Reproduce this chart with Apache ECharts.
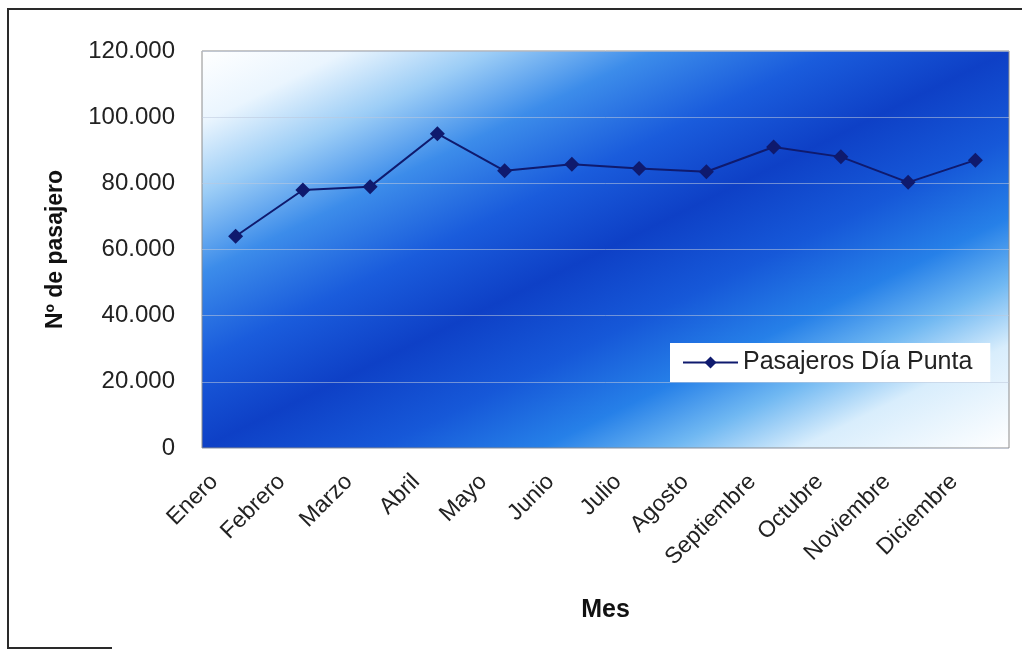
<!DOCTYPE html>
<html>
<head>
<meta charset="utf-8">
<script src="https://cdn.jsdelivr.net/npm/echarts@6/dist/echarts.min.js"></script>
<style>
  html, body { margin: 0; padding: 0; background: #ffffff; }
  #chart { width: 1022px; height: 652px; }
</style>
</head>
<body>
<div id="chart"></div>
<script>
// Monthly peak-day passengers
const months = ['Enero', 'Febrero', 'Marzo', 'Abril', 'Mayo', 'Junio', 'Julio',
                'Agosto', 'Septiembre', 'Octubre', 'Noviembre', 'Diciembre'];
const pasajerosDiaPunta = [64000, 78000, 79000, 95000, 83800, 85800,
                           84500, 83500, 91000, 88000, 80300, 87000];
const yTickLabels = ['0', '20.000', '40.000', '60.000', '80.000', '100.000', '120.000'];
const seriesName = 'Pasajeros Día Punta';

const FONT = "'Liberation Sans', Arial, sans-serif";

// plot box in pixels
const G = { left: 202, top: 51, width: 807, height: 397 };

// diagonal gradient: white corners top-left / bottom-right, deep blue band along
// the bottom-left -> top-right diagonal
function plotGradient() {
  const dx = G.height, dy = G.width;            // perpendicular to the BL-TR diagonal
  const len = Math.hypot(dx, dy);
  const ux = dx / len, uy = dy / len;
  const proj = G.width * ux + G.height * uy;     // projection of the far corner
  return {
    type: 'linear', global: true,
    x: G.left, y: G.top,
    x2: G.left + ux * proj, y2: G.top + uy * proj,
    colorStops: [
      { offset: 0.00, color: '#ffffff' },
      { offset: 0.09, color: '#eaf5fe' },
      { offset: 0.18, color: '#9ccdf6' },
      { offset: 0.28, color: '#3c8cea' },
      { offset: 0.39, color: '#1a5cdc' },
      { offset: 0.50, color: '#0e40c6' },
      { offset: 0.61, color: '#1658d8' },
      { offset: 0.71, color: '#2680e8' },
      { offset: 0.79, color: '#70b8f2' },
      { offset: 0.87, color: '#d8edfc' },
      { offset: 1.00, color: '#ffffff' }
    ]
  };
}

const chart = echarts.init(document.getElementById('chart'), null, { renderer: 'canvas' });

chart.setOption({
  backgroundColor: '#ffffff',
  animation: false,
  textStyle: { fontFamily: FONT },
  grid: {
    left: G.left, top: G.top, width: G.width, height: G.height,
    show: true,
    backgroundColor: plotGradient(),
    borderColor: '#8c8c8c',
    borderWidth: 1
  },
  legend: {
    left: 670, top: 343,
    backgroundColor: '#ffffff',
    padding: [7, 18, 7, 12],
    itemWidth: 55, itemHeight: 15, itemGap: 8,
    textStyle: { fontFamily: FONT, fontSize: 25, color: '#222222' },
    data: [seriesName]
  },
  xAxis: {
    type: 'category',
    data: months,
    boundaryGap: true,
    axisLine: { show: false },
    axisTick: { show: false },
    axisLabel: {
      rotate: 45,
      interval: 0,
      margin: 9,
      padding: [0, 30, 0, 0],
      fontFamily: FONT, fontSize: 23, color: '#222222'
    },
    name: 'Mes',
    nameLocation: 'middle',
    nameGap: 150,
    nameTextStyle: { fontFamily: FONT, fontSize: 25, fontWeight: 'bold', color: '#111111' }
  },
  yAxis: {
    type: 'value',
    min: 0, max: 120000, interval: 20000,
    axisLine: { show: false },
    axisTick: { show: false },
    axisLabel: {
      margin: 27,
      fontFamily: FONT, fontSize: 24, color: '#222222',
      formatter: v => yTickLabels[Math.round(v / 20000)]
    },
    splitLine: { lineStyle: { color: 'rgba(190,200,220,0.55)', width: 1 } },
    name: 'Nº de pasajero',
    nameLocation: 'middle',
    nameRotate: 90,
    nameGap: 135,
    nameTextStyle: { fontFamily: FONT, fontSize: 23, fontWeight: 'bold', color: '#111111' }
  },
  series: [{
    name: seriesName,
    type: 'line',
    data: pasajerosDiaPunta,
    symbol: 'diamond',
    symbolSize: 15,
    lineStyle: { color: '#0f1a6e', width: 2 },
    itemStyle: { color: '#0f1a6e' }
  }],
  graphic: [
    { type: 'line', shape: { x1: 8, y1: 9, x2: 8, y2: 649 }, style: { stroke: '#2a2a2a', lineWidth: 2 } },
    { type: 'line', shape: { x1: 7, y1: 9, x2: 1022, y2: 9 }, style: { stroke: '#2a2a2a', lineWidth: 2 } },
    { type: 'line', shape: { x1: 7, y1: 648, x2: 112, y2: 648 }, style: { stroke: '#2a2a2a', lineWidth: 2 } }
  ]
});
</script>
</body>
</html>
